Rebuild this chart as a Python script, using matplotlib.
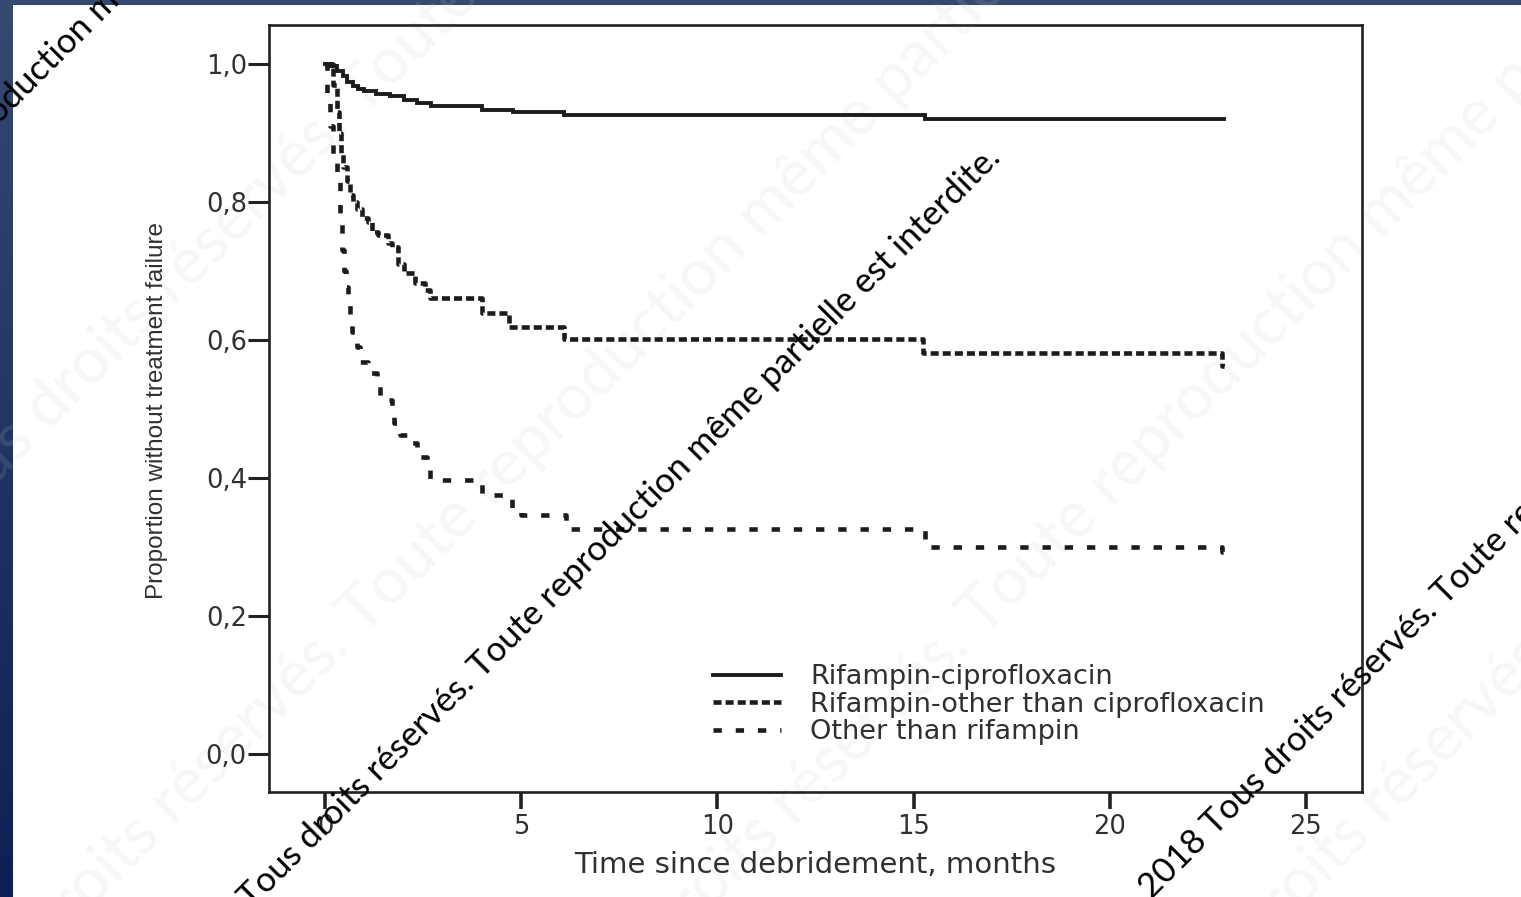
import matplotlib
matplotlib.use("Agg")
import matplotlib.pyplot as plt
import numpy as np
from matplotlib.patches import Rectangle

plt.rcParams['lines.scale_dashes'] = False

# ---------------- data ----------------
cipro_t = [0, 0.15, 0.3, 0.45, 0.55, 0.7, 0.85, 1.0, 1.3, 1.65, 2.0, 2.35, 2.7, 4.0, 4.8, 6.1, 15.3, 22.9]
cipro_s = [1.0, 0.997, 0.99, 0.982, 0.974, 0.968, 0.964, 0.961, 0.957, 0.953, 0.948, 0.944, 0.939,
           0.934, 0.930, 0.926, 0.921, 0.921]

rifother_t = [0, 0.2, 0.3, 0.36, 0.41, 0.46, 0.56, 0.64, 0.71, 0.82, 0.94, 1.1, 1.2, 1.35, 1.6, 1.7,
              1.86, 2.0, 2.3, 2.55, 2.68, 4.0, 4.7, 6.1, 15.25, 22.85, 22.9]
rifother_s = [1.0, 0.97, 0.93, 0.90, 0.87, 0.85, 0.83, 0.81, 0.80, 0.79, 0.777, 0.771, 0.757, 0.752,
              0.74, 0.735, 0.71, 0.697, 0.683, 0.672, 0.661, 0.639, 0.619, 0.601, 0.581, 0.562, 0.562]

other_t = [0, 0.05, 0.12, 0.2, 0.3, 0.38, 0.44, 0.48, 0.52, 0.58, 0.64, 0.69, 0.82, 0.9, 1.1, 1.33,
           1.4, 1.7, 1.75, 1.9, 2.17, 2.33, 2.6, 2.68, 4.0, 4.77, 5.0, 6.15, 15.3, 22.85, 22.9]
other_s = [1.0, 0.95, 0.91, 0.87, 0.83, 0.78, 0.73, 0.70, 0.677, 0.655, 0.633, 0.612, 0.59, 0.568,
           0.552, 0.537, 0.513, 0.503, 0.48, 0.462, 0.451, 0.43, 0.422, 0.397, 0.375, 0.357, 0.346,
           0.326, 0.300, 0.293, 0.293]

series_labels = ["Rifampin-ciprofloxacin", "Rifampin-other than ciprofloxacin", "Other than rifampin"]
x_ticks = [0, 5, 10, 15, 20, 25]
y_ticks = [0.0, 0.2, 0.4, 0.6, 0.8, 1.0]
y_tick_labels = ["0,0", "0,2", "0,4", "0,6", "0,8", "1,0"]
x_label = "Time since debridement, months"
y_label = "Proportion without treatment failure"
watermark = "Tous droits réservés. Toute reproduction même partielle est interdite."

# ---------------- figure ----------------
W, H = 1521, 897
fig = plt.figure(figsize=(W / 100, H / 100), dpi=100)

# background (slide)
bg = fig.add_axes([0, 0, 1, 1], zorder=-10)
grad = np.linspace(0, 1, 256)[:, None]
top_c = np.array([0x34, 0x4a, 0x72]) / 255
bot_c = np.array([0x0e, 0x1f, 0x55]) / 255
img = top_c[None, None, :] * (1 - grad[..., None]) + bot_c[None, None, :] * grad[..., None]
bg.imshow(img, extent=[0, W, H, 0], aspect='auto')
bg.add_patch(Rectangle((13, 5), W - 13, H - 5, facecolor='white', edgecolor='none'))
bg.set_xlim(0, W)
bg.set_ylim(H, 0)
bg.axis('off')

def px(x, y):
    return x / W, 1 - y / H

# faint big watermark text
faint_kw = dict(rotation=45, rotation_mode='anchor', ha='left', va='baseline',
                fontsize=46, color='#c8c8c8', alpha=0.15, family='Lato', zorder=-5)
for (x0, y0) in [(-60, 540), (-60, 1060), (560, 1060), (1150, 1060)]:
    fig.text(*px(x0, y0), watermark, **faint_kw)

# axes
L, R, T, B = 269, 1362, 25, 792
ax = fig.add_axes([L / W, 1 - B / H, (R - L) / W, (B - T) / H])
ax.set_facecolor('none')

ink = '#1c1c1c'
l1, = ax.plot(cipro_t, cipro_s, drawstyle='steps-post', color=ink, lw=2.8,
              solid_joinstyle='miter', label=series_labels[0])
l2, = ax.plot(rifother_t, rifother_s, drawstyle='steps-post', color=ink, lw=3.3,
              label=series_labels[1])
l2.set_dashes((5.8, 2.9))
l3, = ax.plot(other_t, other_s, drawstyle='steps-post', color=ink, lw=3.3,
              label=series_labels[2])
l3.set_dashes((6.0, 10.0))

ax.set_xlim(-1.43, 26.43)
ax.set_ylim(-0.055, 1.0565)
ax.set_xticks(x_ticks)
ax.set_xticklabels([str(v) for v in x_ticks])
ax.set_yticks(y_ticks)
ax.set_yticklabels(y_tick_labels)

for s in ax.spines.values():
    s.set_linewidth(1.9)
    s.set_color('#222222')

txt_c = '#303030'
ax.tick_params(axis='y', direction='out', length=15, width=2.2, color='#222222',
               labelsize=18.5, labelcolor=txt_c, pad=1)
ax.tick_params(axis='x', direction='out', length=12, width=2.6, color='#222222',
               labelsize=18.5, labelcolor=txt_c, pad=4)
for lab in ax.get_xticklabels() + ax.get_yticklabels():
    lab.set_family('DejaVu Sans')

fig.text(*px(815, 865), x_label, ha='center', va='center', fontsize=21,
         color=txt_c, family='DejaVu Sans')
fig.text(*px(157, 410), y_label, ha='center', va='center', rotation=90, fontsize=17.5,
         color=txt_c, family=['Liberation Sans Narrow', 'Liberation Sans'])

leg = ax.legend(handles=[l1, l2, l3], loc='upper left',
                bbox_to_anchor=px(713, 664), bbox_transform=fig.transFigure,
                frameon=False, borderpad=0, borderaxespad=0, handlelength=2.5,
                handletextpad=1.1, labelspacing=0.06,
                prop={'family': 'DejaVu Sans', 'size': 19.5})
for t in leg.get_texts():
    t.set_color(txt_c)

# black diagonal watermark lines
wm_kw = dict(rotation=45, rotation_mode='anchor', ha='left', va='baseline',
             fontsize=25, color='black', family='Lato', zorder=20)
fig.text(*px(252, 910), watermark, **wm_kw)
fig.text(*px(1152, 900), "2018 " + watermark, **wm_kw)
fig.text(*px(-10, 134), "roduction même partielle est interdite.", **wm_kw)

fig.savefig("out.png", dpi=100)
